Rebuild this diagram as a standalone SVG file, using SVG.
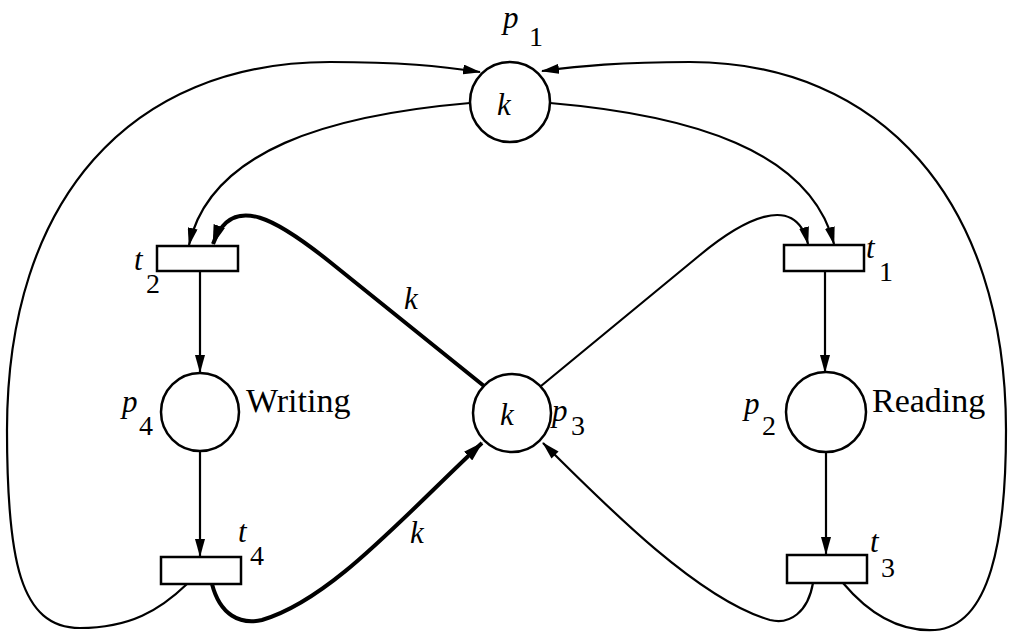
<svg xmlns="http://www.w3.org/2000/svg" width="1013" height="633" viewBox="0 0 1013 633">
<style>
.pl{fill:#fff;stroke:#000;stroke-width:2.5}
.tr{fill:#fff;stroke:#000;stroke-width:2.5}
.e{fill:none;stroke:#000;stroke-width:2.2}
.ek{fill:none;stroke:#000;stroke-width:4}
text{font-family:"Liberation Serif","Times New Roman",serif;fill:#000}
.it{font-style:italic;font-size:31px}
.sub{font-size:28px}
.w{font-size:34px}
</style>
<defs>
<marker id="a" viewBox="0 0 18 10" refX="17" refY="5" markerWidth="18" markerHeight="10" markerUnits="userSpaceOnUse" orient="auto"><path d="M0,0 L18,5 L0,10 z" fill="#000"/></marker>
<marker id="ak" viewBox="0 0 20 12" refX="19" refY="6" markerWidth="20" markerHeight="12" markerUnits="userSpaceOnUse" orient="auto"><path d="M0,0 L20,6 L0,12 z" fill="#000"/></marker>
</defs>
<g id="connectors">
<path class="e" d="M470,103 C330,115 210,150 189,245" marker-end="url(#a)"/>
<path class="e" d="M550,103 C690,115 810,150 834,244" marker-end="url(#a)"/>
<path class="ek" d="M484,386 L330,262 C280,222 232,190 213,244" marker-end="url(#ak)"/>
<path class="e" d="M541,386 L700,255 C740,222 795,190 808,244" marker-end="url(#a)"/>
<path class="ek" d="M212,584 C220,615 240,625 262,620 C330,600 400,520 482,443" marker-end="url(#ak)"/>
<path class="e" d="M813,583 C808,612 790,625 770,620 C700,600 610,510 543,443" marker-end="url(#a)"/>
<path class="e" d="M187,584 C160,610 130,628 80,628 C20,628 7,560 7,430 C7,200 130,62 330,62 C400,62 440,66 480,72" marker-end="url(#a)"/>
<path class="e" d="M843,583 C870,615 900,632 935,630 C990,626 1006,540 1006,430 C1006,200 880,62 690,62 C620,62 580,66 542,71" marker-end="url(#a)"/>
<path class="e" d="M200,271 L200,372" marker-end="url(#a)"/>
<path class="e" d="M200,451 L200,556" marker-end="url(#a)"/>
<path class="e" d="M825,271 L825,372" marker-end="url(#a)"/>
<path class="e" d="M826,451 L826,554" marker-end="url(#a)"/>
<text class="it" x="404" y="309">k</text>
<text class="it" x="410" y="543">k</text>
</g>
<g id="p1">
<circle class="pl" cx="510" cy="102" r="40"/>
<text class="it" x="497" y="115">k</text>
<text x="503" y="28"><tspan class="it">p</tspan><tspan class="sub" x="529" y="46">1</tspan></text>
</g>
<g id="p3">
<circle class="pl" cx="512" cy="413" r="39"/>
<text class="it" x="500" y="425">k</text>
<text x="552" y="421"><tspan class="it">p</tspan><tspan class="sub" x="571" y="435">3</tspan></text>
</g>
<g id="p4">
<circle class="pl" cx="200" cy="412" r="39"/>
<text x="122" y="412"><tspan class="it">p</tspan><tspan class="sub" x="139" y="435">4</tspan></text>
<text class="w" x="246" y="412">Writing</text>
</g>
<g id="p2">
<circle class="pl" cx="826" cy="412" r="40"/>
<text x="744" y="414"><tspan class="it">p</tspan><tspan class="sub" x="762" y="435">2</tspan></text>
<text class="w" x="872" y="412">Reading</text>
</g>
<g id="t2">
<rect class="tr" x="157" y="246" width="81" height="25"/>
<text x="134" y="270"><tspan class="it">t</tspan><tspan class="sub" x="146" y="293">2</tspan></text>
</g>
<g id="t1">
<rect class="tr" x="784" y="245" width="80" height="26"/>
<text x="866" y="258"><tspan class="it">t</tspan><tspan class="sub" x="879" y="281">1</tspan></text>
</g>
<g id="t4">
<rect class="tr" x="161" y="557" width="80" height="27"/>
<text x="238" y="542"><tspan class="it">t</tspan><tspan class="sub" x="250" y="565">4</tspan></text>
</g>
<g id="t3">
<rect class="tr" x="787" y="555" width="80" height="28"/>
<text x="870" y="552"><tspan class="it">t</tspan><tspan class="sub" x="881" y="577">3</tspan></text>
</g>
</svg>
